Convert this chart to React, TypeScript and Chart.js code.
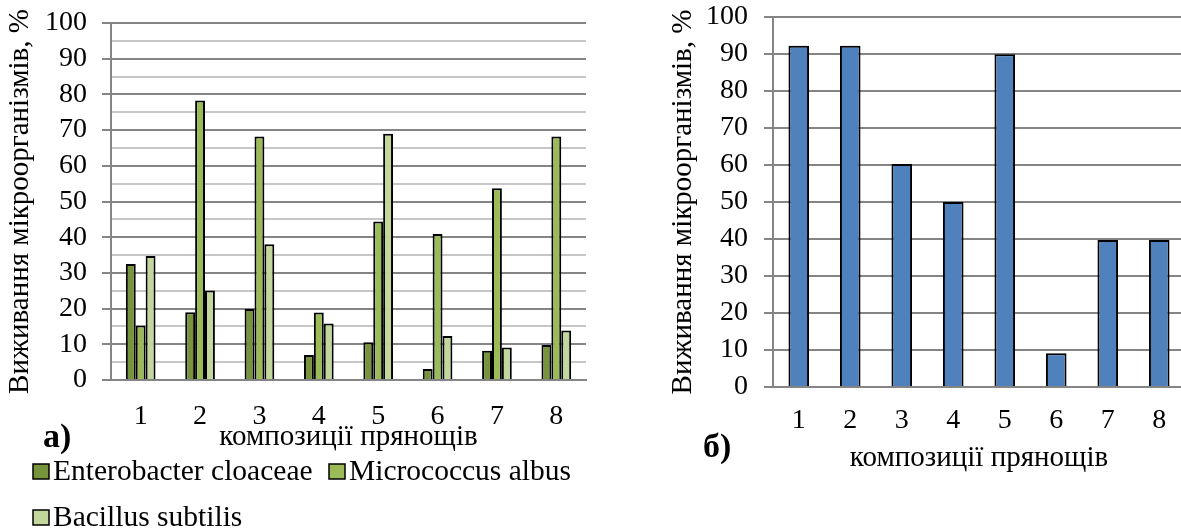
import React, { useEffect, useRef } from "react";
import { Chart, registerables } from "chart.js";

Chart.register(...registerables);

// ---------- data ----------
const categories = ["1", "2", "3", "4", "5", "6", "7", "8"];
const seriesNames = ["Enterobacter cloaceae", "Micrococcus albus", "Bacillus subtilis"];
const enterobacterValues = [32.5, 19.0, 19.9, 7.0, 10.6, 3.1, 8.2, 9.8];
const micrococcusValues = [15.3, 78.3, 68.2, 18.9, 44.4, 40.9, 53.7, 68.2];
const bacillusValues = [34.7, 25.1, 38.0, 15.8, 69.0, 12.3, 9.1, 13.9];
const totalSurvivalValues = [92.2, 92.2, 60.3, 50.0, 89.9, 9.1, 39.7, 39.7];
const yMin = 0;
const yMax = 100;
const yAxisTitle = "Виживання мікроорганізмів, %";
const xAxisTitle = "композиції прянощів";
const panelLabels = ["а)", "б)"];

// ---------- styles ----------
const SERIF = "'Liberation Serif', 'Times New Roman', serif";
const MAJOR = "#858585";
const MINOR = "#c6c6c6";
const seriesColors = ["#77933C", "#9BBB59", "#C3D69B"];
const blue = "#4F81BD";
const TICK_SIZE = 28;
const TITLE_SIZE = 29;
const LEGEND_SIZE = 29.5;

function yAxis(width: number, stepSize: number, tickPad: number, titlePadTop: number) {
  return {
    min: yMin,
    max: yMax,
    ticks: {
      stepSize,
      autoSkip: false,
      color: "#000",
      padding: tickPad,
      font: { family: SERIF, size: TICK_SIZE },
      callback: (v: any) => (Number(v) % 10 === 0 ? String(v) : ""),
    },
    grid: {
      color: (c: any) => (c.tick && c.tick.value % 10 === 0 ? MAJOR : MINOR),
      tickColor: (c: any) => (c.tick && c.tick.value % 10 === 0 ? MAJOR : "rgba(0,0,0,0)"),
      lineWidth: 2,
      tickLength: 9,
      drawTicks: true,
    },
    border: { display: true, color: MAJOR, width: 2 },
    title: {
      display: true,
      text: yAxisTitle,
      color: "#000",
      font: { family: SERIF, size: TITLE_SIZE },
      padding: { top: titlePadTop, bottom: 0 },
    },
    afterFit: (s: any) => {
      s.width = width;
      s.paddingTop = 0;
      s.paddingBottom = 0;
      s.paddingLeft = 0;
      s.paddingRight = 0;
    },
  };
}

function xAxis(height: number, tickPad: number, titlePadBottom: number) {
  return {
    ticks: { color: "#000", padding: tickPad, font: { family: SERIF, size: TICK_SIZE } },
    grid: { display: false, drawTicks: false },
    border: { display: true, color: MAJOR, width: 2 },
    title: {
      display: true,
      text: xAxisTitle,
      color: "#000",
      font: { family: SERIF, size: TITLE_SIZE },
      padding: { top: 0, bottom: titlePadBottom },
    },
    afterFit: (s: any) => {
      s.height = height;
      s.paddingLeft = 0;
      s.paddingRight = 0;
      s.paddingTop = 0;
      s.paddingBottom = 0;
    },
  };
}

const leftExtras = {
  id: "leftExtras",
  afterDraw(chart: any) {
    const ctx = chart.ctx;
    ctx.save();
    ctx.fillStyle = "#000";
    ctx.textAlign = "left";
    ctx.textBaseline = "alphabetic";
    ctx.font = `bold 34px ${SERIF}`;
    ctx.fillText(panelLabels[0], 43, 447);
    const spots = [
      { x: 33, y: 480 },
      { x: 329, y: 480 },
      { x: 33, y: 526 },
    ];
    ctx.font = `${LEGEND_SIZE}px ${SERIF}`;
    chart.data.datasets.forEach((ds: any, i: number) => {
      const p = spots[i];
      ctx.fillStyle = ds.backgroundColor;
      ctx.fillRect(p.x, p.y - 16, 16, 15);
      ctx.strokeStyle = "#000";
      ctx.lineWidth = 1.5;
      ctx.strokeRect(p.x, p.y - 16, 16, 15);
      ctx.fillStyle = "#000";
      ctx.fillText(ds.label, p.x + 20, p.y);
    });
    ctx.restore();
  },
};

const rightExtras = {
  id: "rightExtras",
  afterDraw(chart: any) {
    const ctx = chart.ctx;
    ctx.save();
    ctx.fillStyle = "#000";
    ctx.textAlign = "left";
    ctx.textBaseline = "alphabetic";
    ctx.font = `bold 34px ${SERIF}`;
    ctx.fillText(panelLabels[1], 103, 457);
    ctx.restore();
  },
};

export default function App() {
  const leftRef = useRef<HTMLCanvasElement | null>(null);
  const rightRef = useRef<HTMLCanvasElement | null>(null);

  useEffect(() => {
    const left = new Chart(leftRef.current as HTMLCanvasElement, {
      type: "bar",
      data: {
        labels: categories,
        datasets: [
          { label: seriesNames[0], data: enterobacterValues, backgroundColor: seriesColors[0] },
          { label: seriesNames[1], data: micrococcusValues, backgroundColor: seriesColors[1] },
          { label: seriesNames[2], data: bacillusValues, backgroundColor: seriesColors[2] },
        ].map((d) => ({
          ...d,
          borderColor: "#000",
          borderWidth: 2,
          categoryPercentage: 0.5,
          barPercentage: 1,
        })),
      },
      options: {
        responsive: false,
        maintainAspectRatio: false,
        devicePixelRatio: 1,
        animation: false,
        layout: { padding: { left: 0, top: 23, right: 14, bottom: 68 } },
        plugins: { legend: { display: false }, tooltip: { enabled: false } },
        scales: {
          x: xAxis(80, 20, 5.6) as any,
          y: yAxis(111, 5, 15, 3) as any,
        },
      },
      plugins: [leftExtras],
    });

    const right = new Chart(rightRef.current as HTMLCanvasElement, {
      type: "bar",
      data: {
        labels: categories,
        datasets: [
          {
            label: yAxisTitle,
            data: totalSurvivalValues,
            backgroundColor: blue,
            borderColor: "#000",
            borderWidth: 2,
            categoryPercentage: 1,
            barPercentage: 0.4,
          },
        ],
      },
      options: {
        responsive: false,
        maintainAspectRatio: false,
        devicePixelRatio: 1,
        animation: false,
        layout: { padding: { left: 63, top: 17, right: 15, bottom: 51 } },
        plugins: { legend: { display: false }, tooltip: { enabled: false } },
        scales: {
          x: xAxis(90, 17, 1.6) as any,
          y: yAxis(110, 10, 16, 3) as any,
        },
      },
      plugins: [rightExtras],
    });

    let alive = true;
    const redraw = () => {
      if (!alive) return;
      left.update();
      right.update();
    };
    const fonts: any = (document as any).fonts;
    if (fonts && fonts.load) {
      Promise.all([
        fonts.load("28px 'Liberation Serif'"),
        fonts.load("bold 34px 'Liberation Serif'"),
      ])
        .then(redraw)
        .catch(() => {});
      if (fonts.ready) fonts.ready.then(redraw).catch(() => {});
    }
    const t1 = setTimeout(redraw, 100);

    return () => {
      alive = false;
      clearTimeout(t1);
      left.destroy();
      right.destroy();
    };
  }, []);

  return (
    <div
      style={{
        position: "absolute",
        left: 0,
        top: 0,
        width: 1181,
        height: 528,
        overflow: "hidden",
        background: "#fff",
        fontFamily: "'Liberation Serif', serif",
      }}
    >
      <canvas
        ref={leftRef}
        width={600}
        height={528}
        style={{ position: "absolute", left: 0, top: 0, width: 600, height: 528 }}
      />
      <canvas
        ref={rightRef}
        width={600}
        height={528}
        style={{ position: "absolute", left: 600, top: 0, width: 600, height: 528 }}
      />
    </div>
  );
}
